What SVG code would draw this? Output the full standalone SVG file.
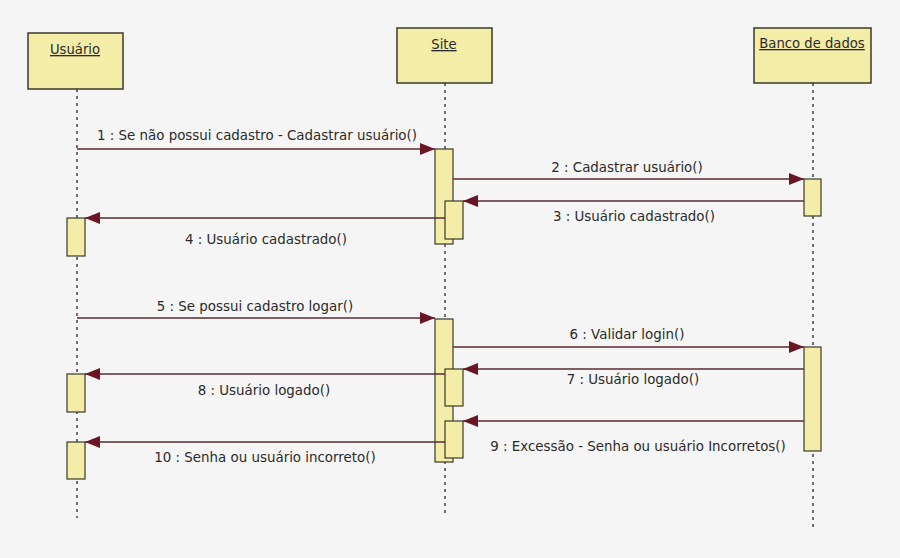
<svg xmlns="http://www.w3.org/2000/svg" width="900" height="558" viewBox="0 0 900 558">
<defs>
<marker id="ah" markerUnits="userSpaceOnUse" markerWidth="16" markerHeight="12" refX="15" refY="6" orient="auto">
<path d="M0,0 L15,6 L0,12 z" fill="#6a1525"/>
</marker>
<style>
.bg{fill:#f5f5f5}
.obj{fill:#f3eda8;stroke:#3a3a2a;stroke-width:1.5}
.act{fill:#f3eda8;stroke:#3a3a2a;stroke-width:1.2}
.life{stroke:#444;stroke-width:1.5;stroke-dasharray:3,4;fill:none}
.msg{stroke:#5a2a30;stroke-width:1.3;fill:none}
.lbl{font-family:"DejaVu Sans",sans-serif;font-size:13.4px;fill:#2a2a2a}
.name{font-family:"DejaVu Sans",sans-serif;font-size:13.2px;fill:#2a2a2a;text-decoration:underline}
</style>
</defs>
<rect class="bg" x="0" y="0" width="900" height="558"/>
<g id="usuario">
<line class="life" x1="77" y1="89" x2="77" y2="518"/>
<rect class="obj" x="28" y="33" width="95" height="56"/>
<text class="name" x="75" y="54" text-anchor="middle">Usuário</text>
<rect class="act" x="67" y="218" width="18" height="38"/>
<rect class="act" x="67" y="374" width="18" height="38"/>
<rect class="act" x="67" y="442" width="18" height="37"/>
</g>
<g id="site">
<line class="life" x1="445" y1="83" x2="445" y2="513"/>
<rect class="obj" x="397" y="28" width="95" height="55"/>
<text class="name" x="444" y="49" text-anchor="middle">Site</text>
<rect class="act" x="435" y="149" width="18" height="95"/>
<rect class="act" x="445" y="201" width="18" height="38"/>
<rect class="act" x="435" y="319" width="18" height="143"/>
<rect class="act" x="445" y="369" width="18" height="37"/>
<rect class="act" x="445" y="421" width="18" height="37"/>
</g>
<g id="banco">
<line class="life" x1="813" y1="83" x2="813" y2="528"/>
<rect class="obj" x="754" y="28" width="117" height="55"/>
<text class="name" x="812" y="48" text-anchor="middle">Banco de dados</text>
<rect class="act" x="804" y="179" width="17" height="37"/>
<rect class="act" x="804" y="347" width="17" height="104"/>
</g>
<g id="connectors">
<line class="msg" x1="77" y1="149" x2="435" y2="149" marker-end="url(#ah)"/>
<line class="msg" x1="453" y1="179" x2="804" y2="179" marker-end="url(#ah)"/>
<line class="msg" x1="804" y1="201" x2="463" y2="201" marker-end="url(#ah)"/>
<line class="msg" x1="445" y1="218" x2="85" y2="218" marker-end="url(#ah)"/>
<line class="msg" x1="77" y1="318" x2="435" y2="318" marker-end="url(#ah)"/>
<line class="msg" x1="453" y1="347" x2="804" y2="347" marker-end="url(#ah)"/>
<line class="msg" x1="804" y1="369" x2="463" y2="369" marker-end="url(#ah)"/>
<line class="msg" x1="445" y1="374" x2="85" y2="374" marker-end="url(#ah)"/>
<line class="msg" x1="804" y1="421" x2="463" y2="421" marker-end="url(#ah)"/>
<line class="msg" x1="445" y1="442" x2="85" y2="442" marker-end="url(#ah)"/>
</g>
<g id="labels">
<text class="lbl" x="257" y="140" text-anchor="middle">1 : Se não possui cadastro - Cadastrar usuário()</text>
<text class="lbl" x="627" y="172" text-anchor="middle">2 : Cadastrar usuário()</text>
<text class="lbl" x="634" y="221" text-anchor="middle">3 : Usuário cadastrado()</text>
<text class="lbl" x="266" y="244" text-anchor="middle">4 : Usuário cadastrado()</text>
<text class="lbl" x="255" y="311" text-anchor="middle">5 : Se possui cadastro logar()</text>
<text class="lbl" x="627" y="339" text-anchor="middle">6 : Validar login()</text>
<text class="lbl" x="633" y="384" text-anchor="middle">7 : Usuário logado()</text>
<text class="lbl" x="264" y="395" text-anchor="middle">8 : Usuário logado()</text>
<text class="lbl" x="638" y="451" text-anchor="middle">9 : Excessão - Senha ou usuário Incorretos()</text>
<text class="lbl" x="265" y="462" text-anchor="middle">10 : Senha ou usuário incorreto()</text>
</g>
</svg>
